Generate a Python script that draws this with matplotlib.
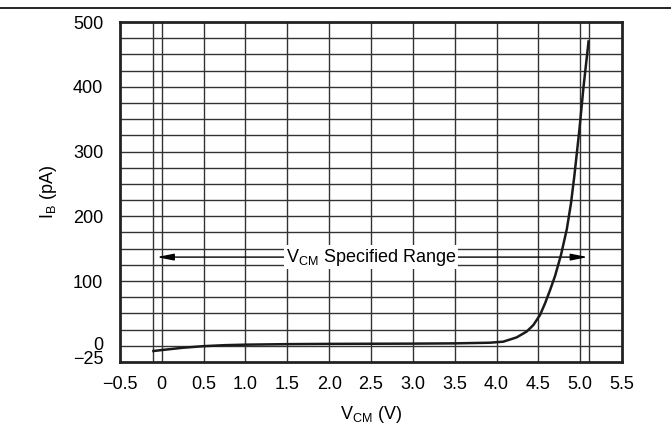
import matplotlib
matplotlib.use("Agg")
import matplotlib.pyplot as plt
import matplotlib.transforms as mtransforms
import numpy as np

plt.rcParams["font.family"] = ["Liberation Sans", "DejaVu Sans"]
plt.rcParams["mathtext.fontset"] = "custom"
plt.rcParams["mathtext.rm"] = "Liberation Sans"

# input bias current vs common-mode voltage
vcm = [-0.1, 0.0, 0.25, 0.5, 0.75, 1.0, 1.5, 2.0, 2.5, 3.0, 3.5, 3.92, 4.08,
       4.24, 4.36, 4.44, 4.52, 4.58, 4.64, 4.70, 4.77, 4.84, 4.89, 4.93, 4.99, 5.04, 5.1]
ib = [-8, -6.5, -3, -0.5, 1, 1.8, 2.6, 3, 3.2, 3.4, 3.8, 4.8, 6.4,
      13, 22, 32, 47.6, 65.6, 86, 108, 140, 180, 220, 262, 333, 400, 470]

x_ticks = [-0.5, 0, 0.5, 1.0, 1.5, 2.0, 2.5, 3.0, 3.5, 4.0, 4.5, 5.0, 5.5]
x_labels = ["\u22120.5", "0", "0.5", "1.0", "1.5", "2.0", "2.5", "3.0", "3.5",
            "4.0", "4.5", "5.0", "5.5"]
y_ticks = [-25, 0, 100, 200, 300, 400, 500]
y_labels = ["\u221225", "0", "100", "200", "300", "400", "500"]
range_limits = [-0.1, 5.1]
range_level = 137

fs = 13

fig = plt.figure(figsize=(6.71, 4.32), dpi=100)
ax = fig.add_axes([0.1788, 0.162, 0.7482, 0.787])

# top rule across the page
fig.add_artist(plt.Line2D([0, 1], [0.981, 0.981], color="black", lw=1.2,
                          transform=fig.transFigure))

ax.set_xlim(-0.5, 5.5)
ax.set_ylim(-25, 500)

grid_col = "#333333"
for xv in np.arange(0, 5.01, 0.5):
    ax.axvline(xv, color=grid_col, lw=1.0, zorder=1)
for xv in range_limits:
    ax.axvline(xv, color=grid_col, lw=1.0, zorder=1)
for yv in np.arange(0, 476, 25):
    ax.axhline(yv, color=grid_col, lw=1.0, zorder=1)

ax.plot(vcm, ib, color="#1a1a1a", lw=1.8, zorder=3)

# specified range annotation
mid = (range_limits[0] + range_limits[1]) / 2
for end in range_limits:
    ax.annotate("", xy=(end + (0.04 if end < mid else -0.01), range_level),
                xytext=(mid, range_level),
                arrowprops=dict(arrowstyle="-|>,head_length=1.0,head_width=0.2",
                                color="black", lw=1.0, shrinkA=0, shrinkB=0),
                zorder=2)
ax.text(mid, range_level, r"$\mathregular{V_{CM}}$ Specified Range",
        ha="center", va="center", fontsize=fs, zorder=4,
        bbox=dict(boxstyle="square,pad=0.1", fc="white", ec="none"))

ax.set_xticks(x_ticks)
ax.set_xticklabels(x_labels)
ax.set_yticks(y_ticks)
ax.set_yticklabels(y_labels)
ax.tick_params(axis="x", length=0, labelsize=fs, pad=10)
ax.tick_params(axis="y", length=0, labelsize=fs, pad=12)

# the -25 and 0 labels are squeezed together, as in the original
labs = ax.get_yticklabels()
for lab, dy in [(labs[0], 3.6), (labs[1], 2.0)]:
    lab.set_transform(lab.get_transform() +
                      mtransforms.ScaledTranslation(0, dy / 72, fig.dpi_scale_trans))

for sp in ax.spines.values():
    sp.set_linewidth(2.0)
    sp.set_color("#222222")
    sp.set_zorder(5)

ax.set_xlabel(r"$\mathregular{V_{CM}}$ (V)", fontsize=fs, labelpad=8)
ax.set_ylabel(r"$\mathregular{I_B}$ (pA)", fontsize=fs, labelpad=10)

fig.savefig("out.png", dpi=100)
